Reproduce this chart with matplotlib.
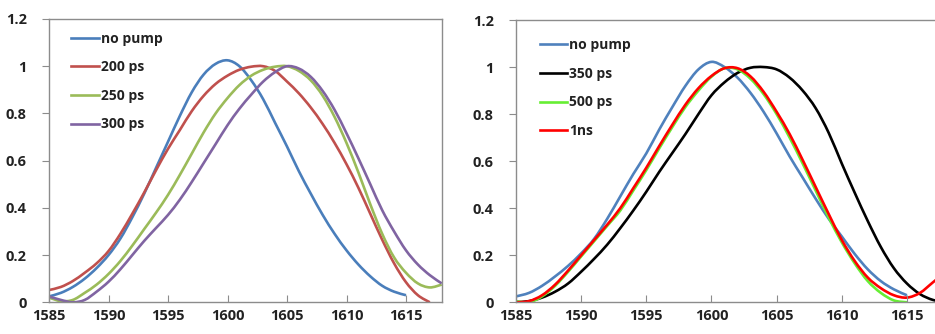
import matplotlib
matplotlib.use("Agg")
import matplotlib.pyplot as plt
import numpy as np
from matplotlib.path import Path
from matplotlib.patches import PathPatch
from matplotlib.lines import Line2D

plt.rcParams["font.family"] = ["Open Sans", "DejaVu Sans"]

# ── data ──────────────────────────────────────────────────────────────────────

wl_left = list(range(1585, 1619))
left_nopump = [0.025, 0.04, 0.065, 0.10, 0.145, 0.20, 0.27, 0.36, 0.46, 0.57,
               0.68, 0.79, 0.89, 0.965, 1.01, 1.025, 1.00, 0.94, 0.86, 0.76,
               0.66, 0.555, 0.46, 0.37, 0.29, 0.22, 0.16, 0.11, 0.07, 0.045,
               0.03]
left_200 = [0.052, 0.065, 0.09, 0.125, 0.165, 0.217, 0.29, 0.375, 0.465, 0.56,
            0.65, 0.73, 0.81, 0.875, 0.925, 0.96, 0.985, 0.998, 1.0, 0.98,
            0.935, 0.885, 0.825, 0.755, 0.675, 0.585, 0.485, 0.375, 0.265,
            0.165, 0.085, 0.03, 0.0]
left_250 = [0.02, 0.005, 0.01, 0.04, 0.075, 0.12, 0.175, 0.24, 0.31, 0.38,
            0.455, 0.54, 0.63, 0.72, 0.80, 0.865, 0.92, 0.96, 0.985, 0.998,
            1.0, 0.98, 0.94, 0.875, 0.785, 0.675, 0.55, 0.415, 0.29, 0.19,
            0.125, 0.08, 0.063, 0.075]
left_300 = [0.025, 0.01, 0.0, 0.01, 0.045, 0.087, 0.14, 0.20, 0.26, 0.315,
            0.37, 0.435, 0.51, 0.59, 0.67, 0.75, 0.82, 0.88, 0.935, 0.975,
            1.0, 0.99, 0.955, 0.895, 0.815, 0.716, 0.61, 0.50, 0.39, 0.30,
            0.22, 0.16, 0.115, 0.08]

wl_right = list(range(1585, 1619))
right_nopump = [0.025, 0.04, 0.07, 0.11, 0.155, 0.208, 0.27, 0.355, 0.45, 0.545,
                0.633, 0.735, 0.83, 0.92, 0.99, 1.022, 1.0, 0.955, 0.89, 0.81,
                0.718, 0.62, 0.53, 0.44, 0.355, 0.28, 0.205, 0.14, 0.09, 0.055,
                0.03]
right_350 = [0.0, 0.005, 0.02, 0.045, 0.08, 0.13, 0.185, 0.245, 0.315, 0.39,
             0.47, 0.555, 0.635, 0.715, 0.80, 0.88, 0.935, 0.975, 0.997, 1.0,
             0.99, 0.955, 0.90, 0.825, 0.72, 0.59, 0.465, 0.345, 0.235, 0.145,
             0.08, 0.035, 0.01, 0.0]
right_500 = [0.005, 0.0, 0.025, 0.07, 0.13, 0.195, 0.26, 0.325, 0.39, 0.475,
             0.562, 0.655, 0.745, 0.83, 0.90, 0.959, 0.995, 0.99, 0.95, 0.885,
             0.80, 0.70, 0.59, 0.475, 0.36, 0.255, 0.165, 0.09, 0.04, 0.008,
             0.0]
right_1ns = [0.0, 0.005, 0.03, 0.075, 0.135, 0.20, 0.265, 0.33, 0.40, 0.485,
             0.572, 0.665, 0.755, 0.84, 0.91, 0.962, 0.995, 0.995, 0.96, 0.895,
             0.81, 0.715, 0.605, 0.49, 0.375, 0.265, 0.175, 0.105, 0.06, 0.03,
             0.02, 0.04, 0.085, 0.13]

x_ticks = [1585, 1590, 1595, 1600, 1605, 1610, 1615]
y_ticks = [0, 0.2, 0.4, 0.6, 0.8, 1, 1.2]
y_labels = ["0", "0.2", "0.4", "0.6", "0.8", "1", "1.2"]

left_series = [("no pump", left_nopump, "#4A7EBB"),
               ("200 ps", left_200, "#C0504D"),
               ("250 ps", left_250, "#9BBB59"),
               ("300 ps", left_300, "#8064A2")]
right_series = [("no pump", right_nopump, "#4F81BD"),
                ("350 ps", right_350, "#000000"),
                ("500 ps", right_500, "#66EE33"),
                ("1ns", right_1ns, "#FF0000")]

SPINE = "#8C8C8C"
LW = 1.9


def smooth_path(xs, ys):
    """Excel-style smoothed line: cubic Bezier segments through the points."""
    x = np.asarray(xs, float)
    y = np.asarray(ys, float)
    n = len(x)
    verts = [(x[0], y[0])]
    codes = [Path.MOVETO]
    for i in range(n - 1):
        p0 = i - 1 if i > 0 else i
        p3 = i + 2 if i + 2 < n else i + 1
        c1 = (x[i] + (x[i + 1] - x[p0]) / 6, y[i] + (y[i + 1] - y[p0]) / 6)
        c2 = (x[i + 1] - (x[p3] - x[i]) / 6, y[i + 1] - (y[p3] - y[i]) / 6)
        verts += [c1, c2, (x[i + 1], y[i + 1])]
        codes += [Path.CURVE4] * 3
    return Path(verts, codes)


def style(ax):
    ax.set_xlim(1585, 1618)
    ax.set_ylim(0, 1.2)
    ax.set_xticks(x_ticks)
    ax.set_yticks(y_ticks)
    ax.set_yticklabels(y_labels)
    for s in ax.spines.values():
        s.set_color(SPINE)
        s.set_linewidth(1.0)
    ax.tick_params(axis="x", direction="in", length=5, color=SPINE,
                   labelsize=10.5, pad=5)
    ax.tick_params(axis="y", direction="out", length=5, color=SPINE,
                   labelsize=10.5, pad=11)
    for lab in ax.get_xticklabels() + ax.get_yticklabels():
        lab.set_fontweight("bold")
        lab.set_color("#222222")


def draw(ax, wl, series, anchor_y):
    handles = []
    for name, ys, col in series:
        patch = PathPatch(smooth_path(wl[:len(ys)], ys), facecolor="none",
                          edgecolor=col, lw=LW, capstyle="butt")
        ax.add_patch(patch)
        handles.append(Line2D([], [], color=col, lw=LW, label=name))
    leg = ax.legend(handles=handles, loc="upper left", frameon=False,
                    handlelength=1.95, handletextpad=0.15, labelspacing=1.05,
                    prop={"weight": "bold", "size": 10},
                    bbox_to_anchor=(0.043, anchor_y), borderaxespad=0)
    for t in leg.get_texts():
        t.set_color("#222222")


fig = plt.figure(figsize=(9.35, 3.34), dpi=100)
ax1 = fig.add_axes([49 / 935, 31.7 / 334, 392.7 / 935, 283.3 / 334])
ax2 = fig.add_axes([516 / 935, 31.7 / 334, 430 / 935, 282.3 / 334])

draw(ax1, wl_left, left_series, 0.975)
draw(ax2, wl_right, right_series, 0.955)
style(ax1)
style(ax2)

fig.savefig("out.png", dpi=100)
